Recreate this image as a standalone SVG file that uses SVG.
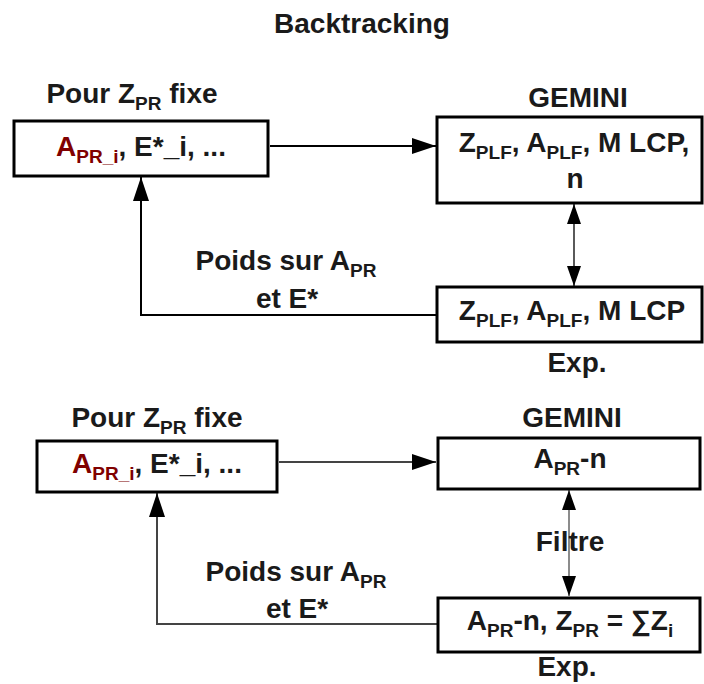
<svg xmlns="http://www.w3.org/2000/svg" width="704" height="684" viewBox="0 0 704 684">
<style>
text{font-family:"Liberation Sans",Arial,sans-serif;font-size:28px;font-weight:bold;fill:#1a1a1a;text-anchor:middle}
.s{font-size:19px}
.red{fill:#800000}
.box{fill:#fff;stroke:#000;stroke-width:3}
.ln{fill:none;stroke:#000;stroke-width:2}
.ln2{fill:none;stroke:#444;stroke-width:2}
.thin{fill:none;stroke:#000;stroke-width:1.3}
.thin2{fill:none;stroke:#666;stroke-width:1.5}
</style>
<defs>
<marker id="big" markerUnits="userSpaceOnUse" markerWidth="26" markerHeight="16" refX="24" refY="8" orient="auto"><path d="M0,0 L24,8 L0,16 Z" fill="#000"/></marker>
<marker id="sm" markerUnits="userSpaceOnUse" markerWidth="22" markerHeight="14" refX="20" refY="7" orient="auto-start-reverse"><path d="M0,0 L20,7 L0,14 Z" fill="#000"/></marker>
</defs>
<text x="362" y="33">Backtracking</text>
<g id="connectors">
<line class="ln" x1="270" y1="146" x2="436" y2="146" marker-end="url(#big)"/>
<line class="thin" x1="574" y1="204" x2="574" y2="286" marker-start="url(#sm)" marker-end="url(#sm)"/>
<polyline class="ln" points="437,315 141,315 141,177" marker-end="url(#big)"/>
<line class="ln2" x1="279" y1="462" x2="436" y2="462" marker-end="url(#big)"/>
<line class="thin2" x1="569" y1="490" x2="569" y2="596" marker-start="url(#sm)" marker-end="url(#sm)"/>
<polyline class="ln2" points="438,624 157,624 157,493" marker-end="url(#big)"/>
</g>
<g id="label1"><text x="286" y="270">Poids sur A<tspan class="s" dy="7">PR</tspan></text><text x="287" y="308">et E*</text></g>
<g id="label2"><text x="296" y="581">Poids sur A<tspan class="s" dy="7">PR</tspan></text><text x="297" y="618">et E*</text></g>
<g id="filtre"><text x="570" y="551">Filtre</text></g>
<g id="n1">
<text x="132" y="103">Pour Z<tspan class="s" dy="7">PR</tspan><tspan dy="-7"> fixe</tspan></text>
<rect class="box" x="14" y="121" width="254" height="55"/>
<text x="141" y="156"><tspan class="red">A</tspan><tspan class="s red" dy="7">PR_i</tspan><tspan dy="-7">, E*_i, ...</tspan></text>
</g>
<g id="n2">
<text x="578" y="107">GEMINI</text>
<rect class="box" x="437" y="117" width="265" height="86"/>
<text x="574" y="152">Z<tspan class="s" dy="7">PLF</tspan><tspan dy="-7">, A</tspan><tspan class="s" dy="7">PLF</tspan><tspan dy="-7">, M LCP,</tspan></text>
<text x="575" y="188">n</text>
</g>
<g id="n3">
<rect class="box" x="437" y="287" width="265" height="55"/>
<text x="572" y="320">Z<tspan class="s" dy="7">PLF</tspan><tspan dy="-7">, A</tspan><tspan class="s" dy="7">PLF</tspan><tspan dy="-7">, M LCP</tspan></text>
<text x="577" y="372">Exp.</text>
</g>
<g id="n4">
<text x="157" y="427">Pour Z<tspan class="s" dy="7">PR</tspan><tspan dy="-7"> fixe</tspan></text>
<rect class="box" x="37" y="441" width="240" height="51"/>
<text x="157" y="473"><tspan class="red">A</tspan><tspan class="s red" dy="7">PR_i</tspan><tspan dy="-7">, E*_i, ...</tspan></text>
</g>
<g id="n5">
<text x="572" y="427">GEMINI</text>
<rect class="box" x="438" y="438" width="262" height="51"/>
<text x="570" y="468">A<tspan class="s" dy="7">PR</tspan><tspan dy="-7">-n</tspan></text>
</g>
<g id="n6">
<rect class="box" x="438" y="598" width="262" height="54"/>
<text x="570" y="630">A<tspan class="s" dy="7">PR</tspan><tspan dy="-7">-n, Z</tspan><tspan class="s" dy="7">PR</tspan><tspan dy="-7"> = ∑Z</tspan><tspan class="s" dy="7">i</tspan></text>
<text x="567" y="676">Exp.</text>
</g>
</svg>
